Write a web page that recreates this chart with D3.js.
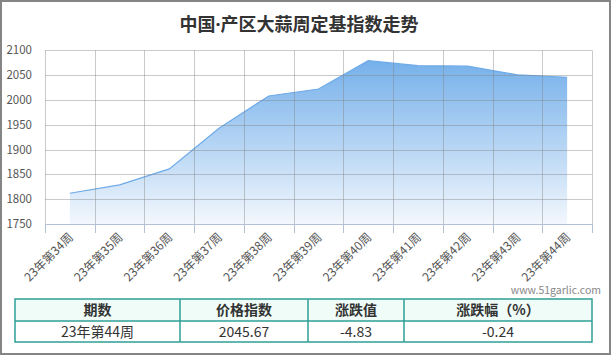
<!DOCTYPE html>
<html><head><meta charset="utf-8">
<script src="https://cdn.jsdelivr.net/npm/d3@7"></script>
<style>
html,body{margin:0;padding:0;background:#fff;}
svg{display:block;font-family:"Noto Sans CJK SC","Noto Sans",sans-serif;}
</style></head>
<body>
<svg id="c" width="612" height="356"></svg>
<script>
const weeks = ["23年第34周","23年第35周","23年第36周","23年第37周","23年第38周","23年第39周","23年第40周","23年第41周","23年第42周","23年第43周","23年第44周"];
const indexValues = [1812, 1829, 1861, 1943, 2008, 2022, 2079, 2069, 2068, 2050.5, 2045.67];
const yTicks = [1750, 1800, 1850, 1900, 1950, 2000, 2050, 2100];
const titleParts = ["中国", "·", "产区大蒜周定基指数走势"];
const tableHeader = ["期数", "价格指数", "涨跌值", "涨跌幅（%）"];
const tableRow = ["23年第44周", "2045.67", "-4.83", "-0.24"];
const watermark = "www.51garlic.com";

const svg = d3.select("#c");

// outer frame
svg.append("rect").attr("x",1).attr("y",1).attr("width",609).attr("height",353)
  .attr("fill","#fff").attr("stroke","#858585").attr("stroke-width",2);

// title
const tt = svg.append("text").attr("x",299).attr("y",31).attr("text-anchor","middle")
  .attr("font-size",18).attr("font-weight","bold").attr("fill","#333");
tt.append("tspan").text(titleParts[0]);
tt.append("tspan").attr("font-family","'Noto Sans',sans-serif").text(titleParts[1]);
tt.append("tspan").text(titleParts[2]);

const x = d3.scaleBand().domain(weeks).range([45, 592]).padding(0);
const y = d3.scaleLinear().domain([1750, 2100]).range([224, 50.3]);

// gradient
const defs = svg.append("defs");
const grad = defs.append("linearGradient").attr("id","g")
  .attr("gradientUnits","userSpaceOnUse").attr("x1",0).attr("y1",y(2080)).attr("x2",0).attr("y2",y(1750));
grad.append("stop").attr("offset",0).attr("stop-color","#75b0ea");
grad.append("stop").attr("offset",1).attr("stop-color","#f2f7fd");

const cx = d => x(d) + x.bandwidth()/2;
const pts = weeks.map((w,i)=>({w, v:indexValues[i]}));

// area
const area = d3.area().x(d=>cx(d.w)).y0(y(1750)).y1(d=>y(d.v));
svg.append("path").datum(pts).attr("d",area).attr("fill","url(#g)");
const line = d3.line().x(d=>cx(d.w)).y(d=>y(d.v));
svg.append("path").datum(pts).attr("d",line).attr("fill","none").attr("stroke","#6eaae8").attr("stroke-width",1.2);

// grid
const grid = svg.append("g");
yTicks.forEach(t=>{
  if (t===1750) return;
  grid.append("line").attr("x1",45).attr("x2",592).attr("y1",Math.round(y(t))+0.5).attr("y2",Math.round(y(t))+0.5)
    .attr("stroke","rgba(128,128,128,0.42)");
});
const bounds = weeks.map(w=>x(w)).concat([x.range()[1]]);
bounds.forEach(b=>{
  grid.append("line").attr("x1",Math.round(b)+0.5).attr("x2",Math.round(b)+0.5).attr("y1",y(2100)).attr("y2",y(1750))
    .attr("stroke","rgba(128,128,128,0.42)");
});
// x axis line and ticks
grid.append("line").attr("x1",45).attr("x2",592).attr("y1",Math.round(y(1750))+0.5).attr("y2",Math.round(y(1750))+0.5)
  .attr("stroke","#b3c1d6");
bounds.forEach(b=>{
  grid.append("line").attr("x1",Math.round(b)+0.5).attr("x2",Math.round(b)+0.5).attr("y1",y(1750)).attr("y2",y(1750)+9)
    .attr("stroke","#b3c1d6");
});

// y labels
svg.append("g").selectAll("text").data(yTicks).join("text")
  .attr("x",32).attr("y",d=>y(d)+4).attr("text-anchor","end").attr("font-size",11.5).attr("fill","#555")
  .text(d=>d);

// x labels
svg.append("g").selectAll("text").data(weeks).join("text")
  .attr("text-anchor","end").attr("font-size",12).attr("fill","#555")
  .attr("transform",d=>`translate(${cx(d)+4},${238}) rotate(-45)`)
  .text(d=>d);

// watermark
svg.append("text").attr("x",601).attr("y",294).attr("text-anchor","end").attr("font-size",10.5)
  .attr("fill","#888").text(watermark);

// table
const colX = [15, 180, 308, 404, 592];
const tTop = 299, tMid = 321, tBot = 342;
svg.append("rect").attr("x",colX[0]).attr("y",tTop).attr("width",colX[4]-colX[0]).attr("height",tMid-tTop)
  .attr("fill","#effcf7");
const tg = svg.append("g").attr("stroke","#2f9f97").attr("stroke-width",1.5).attr("fill","none");
tg.append("rect").attr("x",colX[0]).attr("y",tTop).attr("width",colX[4]-colX[0]).attr("height",tBot-tTop);
tg.append("line").attr("x1",colX[0]).attr("x2",colX[4]).attr("y1",tMid).attr("y2",tMid);
colX.slice(1,4).forEach(c=>tg.append("line").attr("x1",c).attr("x2",c).attr("y1",tTop).attr("y2",tBot));
tableHeader.forEach((h,i)=>{
  svg.append("text").attr("x",(colX[i]+colX[i+1])/2).attr("y",315).attr("text-anchor","middle")
    .attr("font-size",14).attr("font-weight","bold").attr("fill","#333").text(h);
});
tableRow.forEach((h,i)=>{
  svg.append("text").attr("x",(colX[i]+colX[i+1])/2).attr("y",336.5).attr("text-anchor","middle")
    .attr("font-size",14).attr("fill","#333").text(h);
});
</script>
</body></html>
